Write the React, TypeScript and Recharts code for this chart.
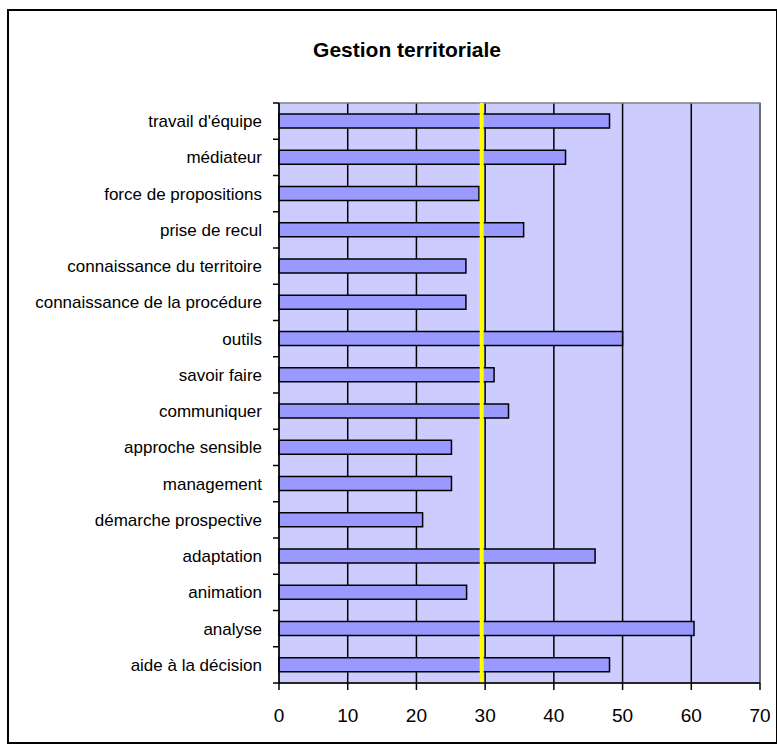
import React from "react";
import {
  BarChart,
  Bar,
  XAxis,
  YAxis,
  CartesianGrid,
  ReferenceLine,
  ReferenceArea,
} from "recharts";

const categories = [
  "travail d'équipe",
  "médiateur",
  "force de propositions",
  "prise de recul",
  "connaissance du territoire",
  "connaissance de la procédure",
  "outils",
  "savoir faire",
  "communiquer",
  "approche sensible",
  "management",
  "démarche prospective",
  "adaptation",
  "animation",
  "analyse",
  "aide à la décision",
];

const values = [
  48.1, 41.7, 29.1, 35.6, 27.2, 27.2, 50.0, 31.3, 33.4, 25.1, 25.1, 20.9, 46.0,
  27.3, 60.4, 48.1,
];

const xTicks = [0, 10, 20, 30, 40, 50, 60, 70];
const targetValue = 29.5;

const data = categories.map((name, i) => ({ name, value: values[i] }));

const W = 777;
const H = 744;
const MARGIN = { top: 103, right: 17, bottom: 11, left: 0 };
const YAXIS_W = 279;
const XAXIS_H = 50;
const PLOT_H = H - MARGIN.top - MARGIN.bottom - XAXIS_H;
const BAND = PLOT_H / categories.length;
const FONT = "'Liberation Sans', Arial, sans-serif";

const CategoryTick = (props: any) => {
  const { y, payload, index } = props;
  const axisX = YAXIS_W;
  return (
    <g>
      <line x1={axisX - 6} x2={axisX} y1={y - BAND / 2} y2={y - BAND / 2} stroke="#000" strokeWidth={1.5} />
      {index === categories.length - 1 && (
        <line x1={axisX - 6} x2={axisX} y1={y + BAND / 2} y2={y + BAND / 2} stroke="#000" strokeWidth={1.5} />
      )}
      <text x={axisX - 17} y={y} dy="0.35em" textAnchor="end" fontSize={17} fontFamily={FONT} fill="#000">
        {payload.value}
      </text>
    </g>
  );
};

const App: React.FC = () => {
  return (
    <div style={{ position: "absolute", left: 0, top: 0, width: W, height: H, background: "#fff" }}>
      <div
        style={{
          position: "absolute",
          left: 7,
          top: 9,
          width: 767,
          height: 731,
          border: "2px solid #000",
        }}
      />
      <div
        style={{
          position: "absolute",
          left: 307,
          width: 200,
          top: 39,
          textAlign: "center",
          fontFamily: FONT,
          fontWeight: "bold",
          fontSize: 21,
          lineHeight: "21px",
          whiteSpace: "nowrap",
        }}
      >
        Gestion territoriale
      </div>
      <div style={{ position: "absolute", left: 0, top: 0 }}>
        <BarChart width={W} height={H} data={data} layout="vertical" margin={MARGIN} barSize={14}>
          <CartesianGrid horizontal={false} stroke="#000" strokeWidth={1.5} fill="#CCCCFF" fillOpacity={1} />
          <ReferenceArea x1={0} x2={70} fill="none" stroke="#808080" strokeWidth={1.5} />
          <XAxis
            type="number"
            domain={[0, 70]}
            ticks={xTicks}
            height={XAXIS_H}
            tickSize={7}
            tickMargin={19}
            stroke="#000"
            axisLine={{ stroke: "#000", strokeWidth: 1.5 }}
            tickLine={{ stroke: "#000", strokeWidth: 1.5 }}
            tick={{ fontSize: 19, fontFamily: FONT, fill: "#000" }}
          />
          <YAxis
            type="category"
            dataKey="name"
            width={YAXIS_W}
            interval={0}
            tickLine={false}
            axisLine={{ stroke: "#000", strokeWidth: 1.5 }}
            tick={<CategoryTick />}
          />
          <Bar dataKey="value" fill="#9999FF" stroke="#000" strokeWidth={1.5} isAnimationActive={false} />
          <ReferenceLine x={targetValue} stroke="#FFFF00" strokeWidth={4} />
        </BarChart>
      </div>
    </div>
  );
};

export default App;
